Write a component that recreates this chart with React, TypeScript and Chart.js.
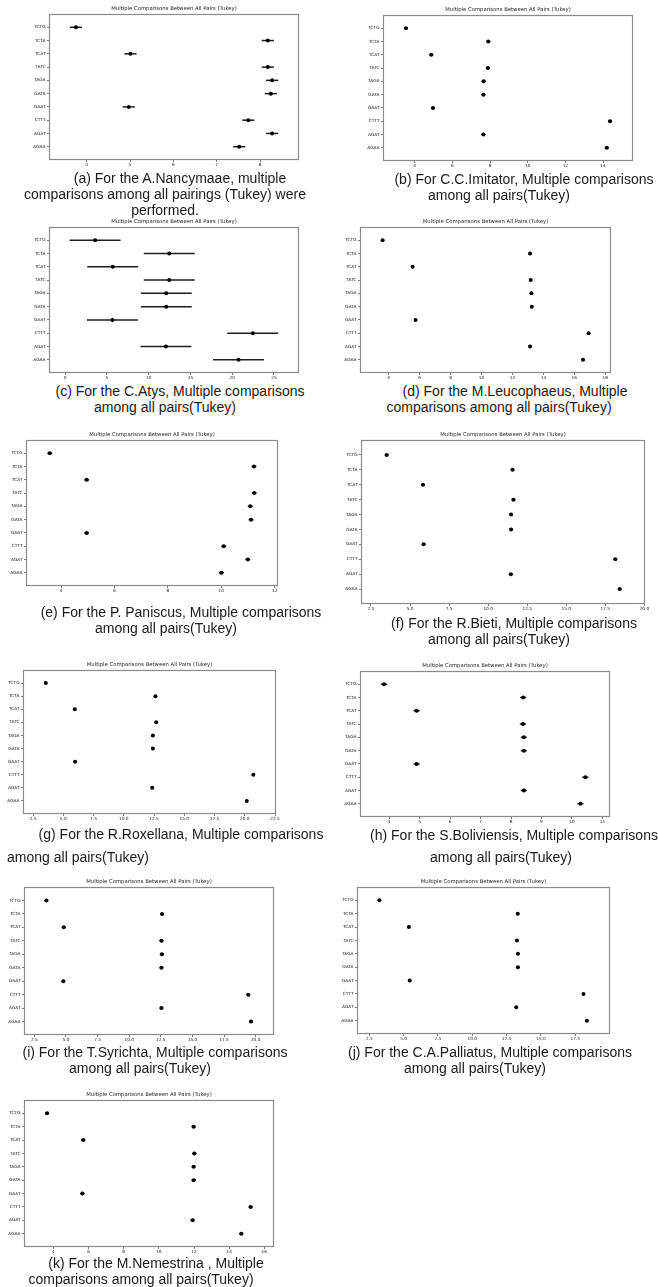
import React, { useEffect, useRef } from 'react';
import { Chart, registerables } from 'chart.js';

Chart.register(...registerables);

// ---------- data ----------
const categories = ['TCTG', 'TCTA', 'TCAT', 'TATC', 'TAGA', 'GATA', 'GAAT', 'CTTT', 'AGAT', 'AGAA'];
const chartTitle = 'Multiple Comparisons Between All Pairs (Tukey)';

const meansA = [3.75, 8.18, 5.01, 8.18, 8.28, 8.25, 4.97, 7.73, 8.28, 7.52];
const halfA = [0.14, 0.14, 0.14, 0.14, 0.14, 0.14, 0.14, 0.14, 0.14, 0.14];
const ticksA = [4, 5, 6, 7, 8];
const rangeA = [3.13, 8.9];

const meansB = [3.54, 7.91, 4.88, 7.89, 7.66, 7.65, 4.97, 14.37, 7.65, 14.2];
const halfB = [0.11, 0.11, 0.11, 0.11, 0.11, 0.11, 0.11, 0.11, 0.11, 0.11];
const ticksB = [4, 6, 8, 10, 12, 14];
const rangeB = [2.32, 15.59];

const meansC = [3.59, 12.47, 5.7, 12.47, 12.11, 12.11, 5.66, 22.47, 12.07, 20.76];
const halfC = [3.05, 3.05, 3.05, 3.05, 3.05, 3.05, 3.05, 3.05, 3.05, 3.05];
const ticksC = [0, 5, 10, 15, 20, 25];
const rangeC = [-1.93, 28.0];

const meansD = [3.61, 13.14, 5.55, 13.18, 13.23, 13.25, 5.74, 16.92, 13.14, 16.56];
const halfD = [0.1, 0.1, 0.1, 0.1, 0.1, 0.1, 0.1, 0.1, 0.1, 0.1];
const ticksD = [4, 6, 8, 10, 12, 14, 16, 18];
const rangeD = [2.15, 18.37];

const meansE = [3.58, 11.22, 4.96, 11.23, 11.08, 11.11, 4.96, 10.09, 10.99, 10.0];
const halfE = [0.09, 0.09, 0.09, 0.09, 0.09, 0.09, 0.09, 0.09, 0.09, 0.09];
const ticksE = [4, 6, 8, 10, 12];
const rangeE = [2.69, 12.12];

const meansF = [3.5, 11.56, 5.83, 11.62, 11.47, 11.47, 5.87, 18.14, 11.45, 18.42];
const halfF = [0.12, 0.12, 0.12, 0.12, 0.12, 0.12, 0.12, 0.12, 0.12, 0.12];
const ticksF = [2.5, 5, 7.5, 10, 12.5, 15, 17.5, 20];
const rangeF = [1.86, 20.04];

const meansG = [3.55, 12.62, 5.95, 12.68, 12.4, 12.4, 5.98, 20.71, 12.35, 20.16];
const halfG = [0.13, 0.13, 0.13, 0.13, 0.13, 0.13, 0.13, 0.13, 0.13, 0.13];
const ticksG = [2.5, 5, 7.5, 10, 12.5, 15, 17.5, 20, 22.5];
const rangeG = [1.67, 22.58];

const meansH = [3.83, 8.4, 4.9, 8.39, 8.42, 8.42, 4.9, 10.44, 8.42, 10.28];
const halfH = [0.1, 0.1, 0.1, 0.1, 0.1, 0.1, 0.1, 0.1, 0.1, 0.1];
const ticksH = [4, 5, 6, 7, 8, 9, 10, 11];
const rangeH = [3.04, 11.25];

const meansI = [3.45, 12.6, 4.82, 12.55, 12.58, 12.55, 4.79, 19.42, 12.55, 19.63];
const halfI = [0.15, 0.15, 0.15, 0.15, 0.15, 0.15, 0.15, 0.15, 0.15, 0.15];
const ticksI = [2.5, 5, 7.5, 10, 12.5, 15, 17.5, 20];
const rangeI = [1.68, 21.45];

const meansJ = [3.23, 13.31, 5.38, 13.25, 13.32, 13.32, 5.44, 18.1, 13.2, 18.34];
const halfJ = [0.11, 0.11, 0.11, 0.11, 0.11, 0.11, 0.11, 0.11, 0.11, 0.11];
const ticksJ = [2.5, 5, 7.5, 10, 12.5, 15, 17.5];
const rangeJ = [1.6, 20.03];

const meansK = [3.64, 11.98, 5.7, 12.02, 11.98, 11.98, 5.65, 15.22, 11.92, 14.69];
const halfK = [0.12, 0.12, 0.12, 0.12, 0.12, 0.12, 0.12, 0.12, 0.12, 0.12];
const ticksK = [4, 6, 8, 10, 12, 14, 16];
const rangeK = [2.33, 16.55];

// ---------- layout ----------
type Caption = { text: string; cx: number; cy: number };
type Spec = {
  key: string;
  means: number[];
  half: number[];
  ticks: number[];
  range: number[];
  decimals: number;
  box: [number, number, number, number]; // plot area left, top, right, bottom
  captions: Caption[];
};

const panels: Spec[] = [
  {
    key: 'a', means: meansA, half: halfA, ticks: ticksA, range: rangeA, decimals: 0,
    box: [49, 14, 299, 160],
    captions: [
      { text: '(a) For the A.Nancymaae, multiple', cx: 180, cy: 178 },
      { text: 'comparisons among all pairings (Tukey) were', cx: 165, cy: 194 },
      { text: 'performed.', cx: 165, cy: 210 },
    ],
  },
  {
    key: 'b', means: meansB, half: halfB, ticks: ticksB, range: rangeB, decimals: 0,
    box: [383, 15, 633, 161],
    captions: [
      { text: '(b) For C.C.Imitator, Multiple comparisons', cx: 524, cy: 179 },
      { text: 'among all pairs(Tukey)', cx: 499, cy: 195 },
    ],
  },
  {
    key: 'c', means: meansC, half: halfC, ticks: ticksC, range: rangeC, decimals: 0,
    box: [49, 227, 299, 373],
    captions: [
      { text: '(c) For the C.Atys, Multiple comparisons', cx: 180, cy: 391 },
      { text: 'among all pairs(Tukey)', cx: 165, cy: 407 },
    ],
  },
  {
    key: 'd', means: meansD, half: halfD, ticks: ticksD, range: rangeD, decimals: 0,
    box: [360, 227, 611, 373],
    captions: [
      { text: '(d) For the M.Leucophaeus, Multiple', cx: 515, cy: 391 },
      { text: 'comparisons among all pairs(Tukey)', cx: 499, cy: 407 },
    ],
  },
  {
    key: 'e', means: meansE, half: halfE, ticks: ticksE, range: rangeE, decimals: 0,
    box: [26, 440, 278, 586],
    captions: [
      { text: '(e) For the P. Paniscus, Multiple comparisons', cx: 181, cy: 612 },
      { text: 'among all pairs(Tukey)', cx: 166, cy: 628 },
    ],
  },
  {
    key: 'f', means: meansF, half: halfF, ticks: ticksF, range: rangeF, decimals: 1,
    box: [361, 440, 645, 604],
    captions: [
      { text: '(f) For the R.Bieti, Multiple comparisons', cx: 514, cy: 623 },
      { text: 'among all pairs(Tukey)', cx: 499, cy: 639 },
    ],
  },
  {
    key: 'g', means: meansG, half: halfG, ticks: ticksG, range: rangeG, decimals: 1,
    box: [23, 670, 276, 814],
    captions: [
      { text: '(g) For the R.Roxellana, Multiple comparisons', cx: 181, cy: 834 },
      { text: 'among all pairs(Tukey)', cx: 78, cy: 857 },
    ],
  },
  {
    key: 'h', means: meansH, half: halfH, ticks: ticksH, range: rangeH, decimals: 0,
    box: [360, 671, 610, 817],
    captions: [
      { text: '(h) For the S.Boliviensis, Multiple comparisons', cx: 514, cy: 835 },
      { text: 'among all pairs(Tukey)', cx: 501, cy: 857 },
    ],
  },
  {
    key: 'i', means: meansI, half: halfI, ticks: ticksI, range: rangeI, decimals: 1,
    box: [24, 887, 274, 1035],
    captions: [
      { text: '(i) For the T.Syrichta, Multiple comparisons', cx: 155, cy: 1052 },
      { text: 'among all pairs(Tukey)', cx: 140, cy: 1068 },
    ],
  },
  {
    key: 'j', means: meansJ, half: halfJ, ticks: ticksJ, range: rangeJ, decimals: 1,
    box: [357, 887, 610, 1034],
    captions: [
      { text: '(j) For the C.A.Palliatus, Multiple comparisons', cx: 490, cy: 1052 },
      { text: 'among all pairs(Tukey)', cx: 475, cy: 1068 },
    ],
  },
  {
    key: 'k', means: meansK, half: halfK, ticks: ticksK, range: rangeK, decimals: 0,
    box: [24, 1100, 274, 1247],
    captions: [
      { text: '(k) For the M.Nemestrina , Multiple', cx: 156, cy: 1263 },
      { text: 'comparisons among all pairs(Tukey)', cx: 141, cy: 1279 },
    ],
  },
];

const Y_AXIS_W = 32;
const TITLE_H = 10;
const X_AXIS_H = 10;
const RIGHT_PAD = 10;

const framePlugin = {
  id: 'frame',
  afterDraw(chart: any) {
    const { ctx, chartArea } = chart;
    const l = Math.round(chartArea.left) + 0.5;
    const t = Math.round(chartArea.top) + 0.5;
    const r = Math.round(chartArea.right) - 0.5;
    const b = Math.round(chartArea.bottom) - 0.5;
    ctx.save();
    ctx.strokeStyle = '#8a8a8a';
    ctx.lineWidth = 1.2;
    ctx.strokeRect(l, t, r - l, b - t);
    ctx.restore();
  },
};

function Panel({ spec }: { spec: Spec }) {
  const ref = useRef<HTMLCanvasElement | null>(null);
  const [L, T, R, B] = spec.box;
  const w = R - L + Y_AXIS_W + RIGHT_PAD;
  const h = B - T + TITLE_H + X_AXIS_H;

  useEffect(() => {
    if (!ref.current) return;
    const ciSets = spec.means.map((m, i) => ({
      type: 'line' as const,
      data: [
        { x: m - spec.half[i], y: i },
        { x: m + spec.half[i], y: i },
      ],
      borderColor: '#1e1e1e',
      borderWidth: 1.5,
      pointRadius: 0,
      showLine: true,
      order: 2,
    }));
    const meanSet = {
      type: 'scatter' as const,
      data: spec.means.map((m, i) => ({ x: m, y: i })),
      pointRadius: 2,
      pointHoverRadius: 2,
      backgroundColor: '#000',
      borderColor: '#000',
      borderWidth: 0,
      order: 1,
    };
    const tickFont = { size: 4.3, family: 'DejaVu Sans' };
    const chart = new Chart(ref.current, {
      type: 'scatter',
      data: { datasets: [...ciSets, meanSet] as any },
      plugins: [framePlugin],
      options: {
        animation: false,
        responsive: false,
        events: [],
        layout: { padding: { left: 0, top: 0, bottom: 0, right: RIGHT_PAD } },
        plugins: {
          legend: { display: false },
          tooltip: { enabled: false },
          title: {
            display: true,
            text: chartTitle,
            fullSize: false,
            color: '#222',
            font: { size: 5.3, family: 'DejaVu Sans', weight: 'normal', lineHeight: '6px' } as any,
            padding: { top: 2, bottom: 2 },
          },
        },
        scales: {
          x: {
            type: 'linear',
            min: spec.range[0],
            max: spec.range[1],
            afterBuildTicks: (s: any) => {
              s.ticks = spec.ticks.map((v) => ({ value: v }));
            },
            afterFit: (s: any) => {
              s.height = X_AXIS_H;
            },
            ticks: {
              autoSkip: false,
              maxRotation: 0,
              padding: 0,
              color: '#222',
              font: tickFont,
              callback: (v: any) => Number(v).toFixed(spec.decimals),
            },
            grid: { drawOnChartArea: false, drawTicks: true, tickLength: 2, color: '#444', lineWidth: 0.7 },
            border: { display: false },
          },
          y: {
            type: 'linear',
            min: -1,
            max: 10,
            reverse: true,
            afterBuildTicks: (s: any) => {
              s.ticks = categories.map((_, i) => ({ value: i }));
            },
            afterFit: (s: any) => {
              s.width = Y_AXIS_W;
            },
            ticks: {
              autoSkip: false,
              padding: 1.5,
              color: '#222',
              font: tickFont,
              callback: (v: any) => categories[Number(v)] ?? '',
            },
            grid: { drawOnChartArea: false, drawTicks: true, tickLength: 2, color: '#444', lineWidth: 0.7 },
            border: { display: false },
          },
        },
      } as any,
    });
    return () => chart.destroy();
  }, [spec]);

  return (
    <canvas
      ref={ref}
      width={w}
      height={h}
      style={{ position: 'absolute', left: L - Y_AXIS_W, top: T - TITLE_H, width: w, height: h }}
    />
  );
}

export default function App() {
  return (
    <div
      style={{
        position: 'absolute',
        left: 0,
        top: 0,
        width: 658,
        height: 1287,
        background: '#fff',
        overflow: 'hidden',
      }}
    >
      {panels.map((p) => (
        <Panel key={p.key} spec={p} />
      ))}
      {panels.map((p) =>
        p.captions.map((c, i) => (
          <div
            key={p.key + i}
            style={{
              position: 'absolute',
              left: c.cx - 200,
              top: c.cy - 8,
              width: 400,
              height: 16,
              lineHeight: '16px',
              textAlign: 'center',
              whiteSpace: 'nowrap',
              fontFamily: '"Liberation Sans", Arial, sans-serif',
              fontSize: 14,
              color: '#1a1a1a',
            }}
          >
            {c.text}
          </div>
        ))
      )}
    </div>
  );
}
